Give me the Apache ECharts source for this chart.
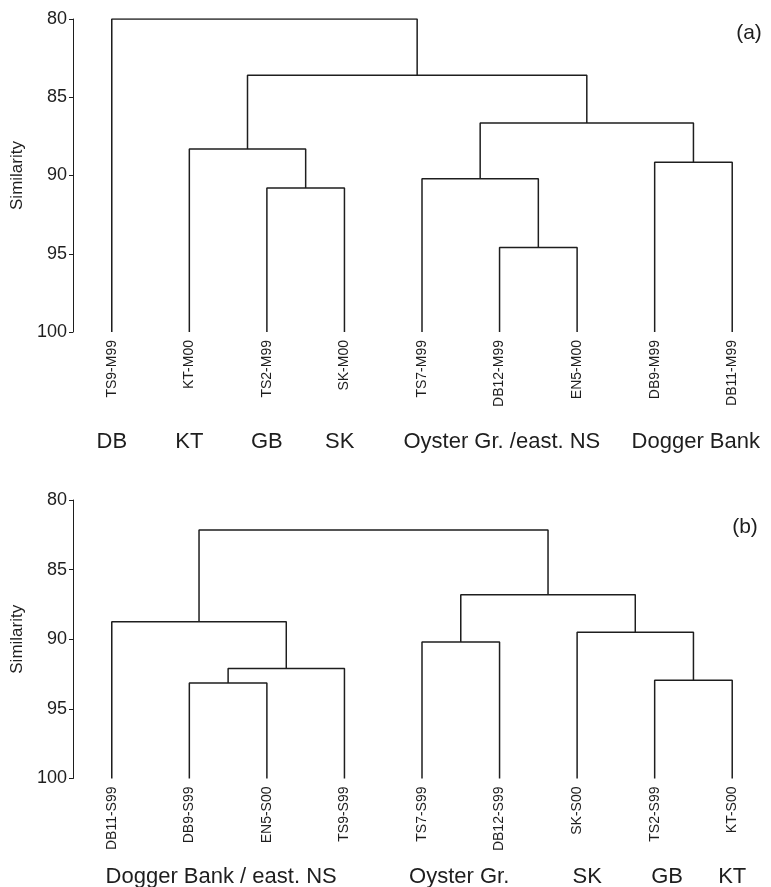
<!DOCTYPE html>
<html>
<head>
<meta charset="utf-8">
<script src="https://cdn.jsdelivr.net/npm/echarts@6/dist/echarts.min.js"></script>
<style>
html,body{margin:0;padding:0;background:#fff;}
#chart{width:771px;height:887px;}
</style>
</head>
<body>
<div id="chart"></div>
<script>
// ---- Data ----
// Panel (a)
var leavesA = ['TS9-M99','KT-M00','TS2-M99','SK-M00','TS7-M99','DB12-M99','EN5-M00','DB9-M99','DB11-M99'];
// merges: [childA, childB, similarity]; node ids 0..8 are leaves, 9+ are merged clusters in order
var mergesA = [
  [2, 3, 90.8],
  [1, 9, 88.3],
  [5, 6, 94.6],
  [4, 11, 90.2],
  [7, 8, 89.15],
  [12, 13, 86.65],
  [10, 14, 83.6],
  [0, 15, 80.0]
];
var groupNamesA = ['DB', 'KT', 'GB', 'SK', 'Oyster Gr. /east. NS', 'Dogger Bank'];
var groupCentersA = [0, 1, 2, 2.94, 5.03, 7.53];

// Panel (b)
var leavesB = ['DB11-S99','DB9-S99','EN5-S00','TS9-S99','TS7-S99','DB12-S99','SK-S00','TS2-S99','KT-S00'];
var mergesB = [
  [1, 2, 93.15],
  [9, 3, 92.1],
  [0, 10, 88.75],
  [4, 5, 90.2],
  [7, 8, 92.95],
  [6, 13, 89.5],
  [12, 14, 86.8],
  [11, 15, 82.15]
];
var groupNamesB = ['Dogger Bank / east. NS', 'Oyster Gr.', 'SK', 'GB', 'KT'];
var groupCentersB = [1.41, 4.48, 6.13, 7.16, 8.0];

var yTicks = [80, 85, 90, 95, 100];
var leafSimilarity = 100;

// ---- Build ----
var FONT = 'Liberation Sans, Arial, Helvetica, sans-serif';
var INK = '#1e1e1e';

function buildLinks(leaves, merges, xAxisIndex, yAxisIndex) {
  var nx = [], ny = [];
  for (var i = 0; i < leaves.length; i++) { nx.push(i); ny.push(leafSimilarity); }
  var series = [];
  merges.forEach(function (m) {
    var a = m[0], b = m[1], h = m[2];
    series.push({
      type: 'line',
      xAxisIndex: xAxisIndex,
      yAxisIndex: yAxisIndex,
      data: [[nx[a], ny[a]], [nx[a], h], [nx[b], h], [nx[b], ny[b]]],
      symbol: 'none',
      silent: true,
      animation: false,
      lineStyle: { color: INK, width: 1.5 }
    });
    nx.push((nx[a] + nx[b]) / 2);
    ny.push(h);
  });
  return series;
}

function yAxisDef(gridIndex) {
  return {
    type: 'value', gridIndex: gridIndex, inverse: true,
    min: yTicks[0], max: yTicks[yTicks.length - 1], interval: 5,
    name: 'Similarity', nameLocation: 'middle', nameRotate: 90, nameGap: 47,
    nameTextStyle: { fontFamily: FONT, fontSize: 17, color: INK },
    axisLine: { show: true, onZero: false, lineStyle: { color: INK, width: 1 } },
    axisTick: { show: true, length: 4, lineStyle: { color: INK, width: 1 } },
    axisLabel: { fontFamily: FONT, fontSize: 18, color: INK, margin: 6 },
    splitLine: { show: false }
  };
}

function catAxisDef(gridIndex, data) {
  return {
    type: 'category', gridIndex: gridIndex, data: data, position: 'bottom',
    boundaryGap: true,
    axisLine: { show: false, onZero: false }, axisTick: { show: false }, splitLine: { show: false },
    axisLabel: { rotate: 90, interval: 0, margin: 8, fontFamily: FONT, fontSize: 14, color: INK }
  };
}

function valAxisDef(gridIndex) {
  return { type: 'value', gridIndex: gridIndex, min: -0.5, max: 8.5, show: false };
}

var chart = echarts.init(document.getElementById('chart'), null, { renderer: 'canvas' });

var option = {
  backgroundColor: '#fff',
  animation: false,
  grid: [
    { left: 73, top: 19, width: 706, height: 313 },
    { left: 73, top: 500, width: 706.5, height: 278.5 }
  ],
  xAxis: [catAxisDef(0, leavesA), valAxisDef(0), catAxisDef(1, leavesB), valAxisDef(1)],
  yAxis: [yAxisDef(0), yAxisDef(1)],
  series: buildLinks(leavesA, mergesA, 1, 0).concat(buildLinks(leavesB, mergesB, 3, 1))
};
chart.setOption(option);

// group labels and panel letters placed via the axes
var graphics = [];
function addGroups(names, centers, xAxisIndex, y) {
  names.forEach(function (n, i) {
    var px = chart.convertToPixel({ xAxisIndex: xAxisIndex }, centers[i]);
    graphics.push({
      type: 'text', x: px, y: y, silent: true,
      style: { text: n, fill: INK, font: '22px ' + FONT, textAlign: 'center', textVerticalAlign: 'middle' }
    });
  });
}
addGroups(groupNamesA, groupCentersA, 1, 442);
addGroups(groupNamesB, groupCentersB, 3, 877);
graphics.push({ type: 'text', x: 749, y: 33, silent: true,
  style: { text: '(a)', fill: INK, font: '21px ' + FONT, textAlign: 'center', textVerticalAlign: 'middle' } });
graphics.push({ type: 'text', x: 745, y: 527, silent: true,
  style: { text: '(b)', fill: INK, font: '21px ' + FONT, textAlign: 'center', textVerticalAlign: 'middle' } });
chart.setOption({ graphic: graphics });
</script>
</body>
</html>
